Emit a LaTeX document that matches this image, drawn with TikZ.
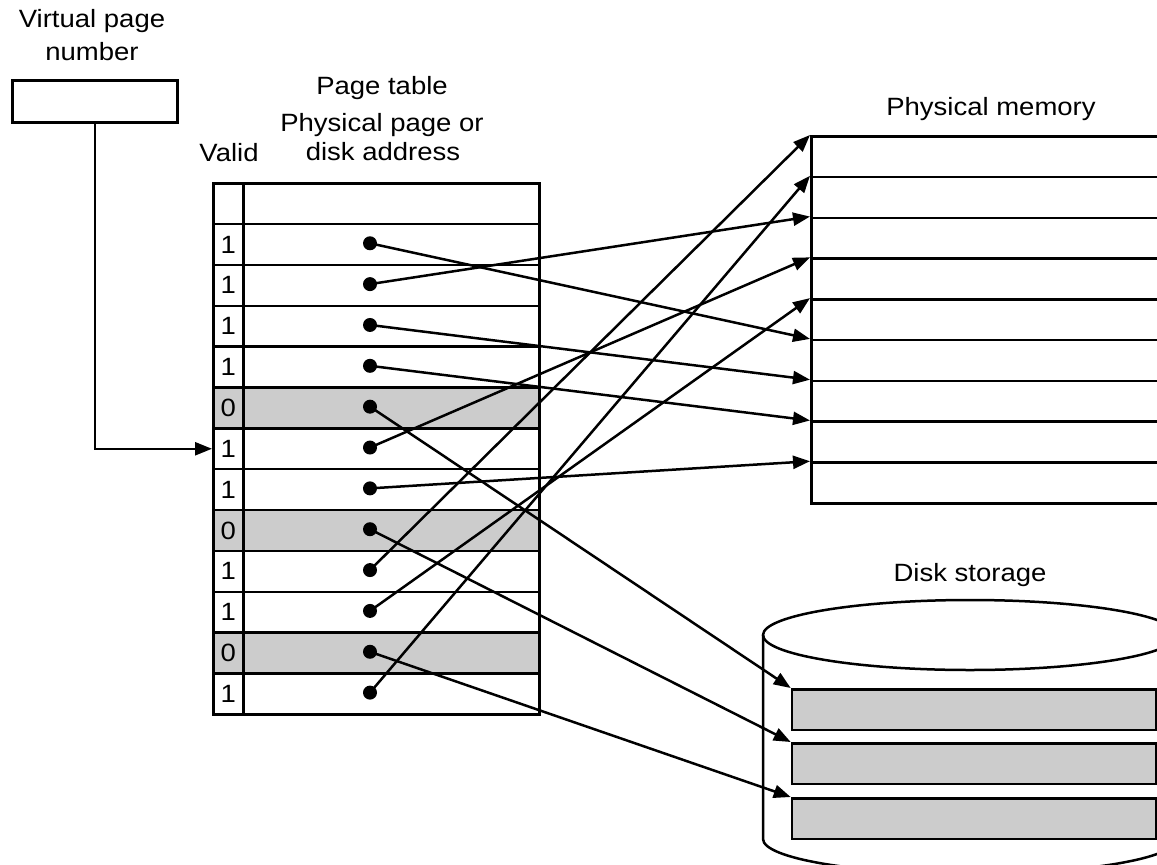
\documentclass[tikz,border=0pt]{standalone}
\usepackage{fontspec}
\setmainfont{Liberation Sans}[FakeStretch=1.1]
\usetikzlibrary{arrows.meta}
\definecolor{slotgray}{HTML}{CCCCCC}
\begin{document}
\begin{tikzpicture}[x=1pt,y=-1pt, line width=2.5pt,
  font=\fontsize{25}{29}\selectfont,
  arr/.style={-{Triangle[length=17pt,width=13pt]}},
  dotmark/.style={circle, fill=black, inner sep=0pt, minimum size=14pt},
  lbl/.style={inner sep=0pt, anchor=base},
  cell/.style={draw, rectangle, inner sep=0pt, minimum height=40.85pt, anchor=north west},
  memslot/.style={draw, rectangle, inner sep=0pt, minimum width=420pt, minimum height=40.78pt, anchor=north west},
  diskslot/.style={draw, rectangle, fill=slotgray, inner sep=0pt, minimum width=364pt, minimum height=40.7pt, anchor=north west},
]
\clip (0,0) rectangle (1157,865);

% labels
\node[lbl] (tvp) at (92,27) {Virtual page};
\node[lbl] (tnum) at (92,60) {number};
\node[lbl] (tpt) at (382,94) {Page table};
\node[lbl] (tpp) at (382,131.5) {Physical page or};
\node[lbl] (tda) at (383,160) {disk address};
\node[lbl] (tval) at (229,161) {Valid};
\node[lbl] (tpm) at (991,115) {Physical memory};
\node[lbl] (tds) at (970,581) {Disk storage};

% virtual page number box
\node[draw, rectangle, inner sep=0pt, minimum width=165pt, minimum height=42pt, anchor=north west] (vpn) at (11,79) {};

% page table
\foreach \k/\d/\f in {0//white,1/1/white,2/1/white,3/1/white,4/1/white,5/0/slotgray,6/1/white,7/1/white,8/0/slotgray,9/1/white,10/1/white,11/0/slotgray,12/1/white}{
  \node[cell, minimum width=30pt, fill=\f] (v\k) at (212,182+40.85*\k) {\d};
  \node[cell, minimum width=296pt, fill=\f] (a\k) at (242,182+40.85*\k) {};
}
\foreach \k in {1,...,12}{
  \coordinate (c\k) at (370,182+40.85*\k+20.425);
}

% input arrow
\draw[arr] (vpn.south) |- (v6.west);

% physical memory
\foreach \j in {0,...,8}{
  \node[memslot] (m\j) at (810,135+40.78*\j) {};
}

% disk storage
\draw (763,635) -- (763,839) arc[start angle=180, end angle=0, x radius=207, y radius=35];
\draw (970,635) ellipse [x radius=207, y radius=35];
\node[diskslot] (s1) at (790.7,688) {};
\node[diskslot] (s2) at (790.7,742) {};
\node[diskslot] (s3) at (790.7,797) {};

% mappings
\draw[arr] (c1) -- (m5.north west);
\draw[arr] (c2) -- (m2.north west);
\draw[arr] (c3) -- (m6.north west);
\draw[arr] (c4) -- (m7.north west);
\draw[arr] (c5) -- (s1.north west);
\draw[arr] (c6) -- (m3.north west);
\draw[arr] (c7) -- (m8.north west);
\draw[arr] (c8) -- (s2.north west);
\draw[arr] (c9) -- (m0.north west);
\draw[arr] (c10) -- (m4.north west);
\draw[arr] (c11) -- (s3.north west);
\draw[arr] (c12) -- (m1.north west);

% dots
\foreach \k in {1,...,12}{
  \node[dotmark] (p\k) at (c\k) {};
}
\end{tikzpicture}
\end{document}
